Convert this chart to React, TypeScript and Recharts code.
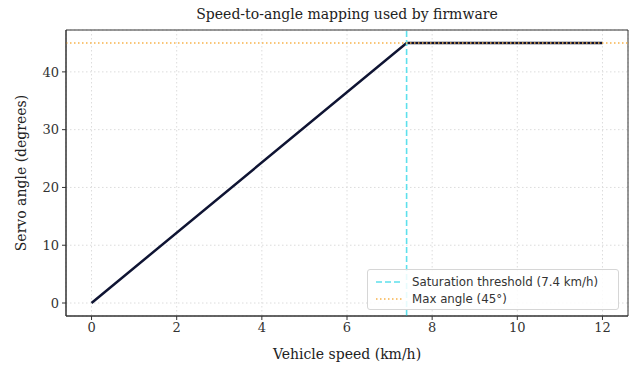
import React from "react";
import {
  ComposedChart,
  Line,
  XAxis,
  YAxis,
  CartesianGrid,
  ReferenceLine,
  ReferenceArea,
} from "recharts";

const speeds = [0, 7.4, 12];
const angles = [0, 45, 45];
const xTicks = [0, 2, 4, 6, 8, 10, 12];
const yTicks = [0, 10, 20, 30, 40];
const thresholdSpeed = 7.4;
const maxAngle = 45;
const xDomain = [-0.6, 12.6];
const yDomain = [-2.25, 47.25];
const legendLabels = ["Saturation threshold (7.4 km/h)", "Max angle (45°)"];

const data = speeds.map((s, i) => ({ speed: s, angle: angles[i] }));

const serif = "'DejaVu Serif', serif";
const sans = "'DejaVu Sans', sans-serif";
const axisColor = "#333";
const tickStyle = { fontFamily: serif, fontSize: 13, fill: "#333" };

const LegendBox = () => (
  <div
    style={{
      position: "absolute",
      left: 367,
      top: 269,
      width: 252,
      height: 41,
      border: "1px solid #d6d6d6",
      borderRadius: 3,
      background: "rgba(255,255,255,0.85)",
      fontFamily: sans,
      fontSize: 11.8,
      color: "#333",
      boxSizing: "border-box",
      padding: "3px 0 0 8px",
    }}
  >
    <div style={{ display: "flex", alignItems: "center", height: 17 }}>
      <svg width={28} height={10}>
        <line x1={0} y1={5} x2={26} y2={5} stroke="#5ee0ec" strokeWidth={1.6} strokeDasharray="6 3" />
      </svg>
      <span style={{ marginLeft: 8 }}>{legendLabels[0]}</span>
    </div>
    <div style={{ display: "flex", alignItems: "center", height: 17 }}>
      <svg width={28} height={10}>
        <line x1={0} y1={5} x2={26} y2={5} stroke="#f7b24a" strokeWidth={1.6} strokeDasharray="1.5 2.5" />
      </svg>
      <span style={{ marginLeft: 8 }}>{legendLabels[1]}</span>
    </div>
  </div>
);

export default function App() {
  return (
    <div
      style={{
        position: "absolute",
        left: 0,
        top: 0,
        width: 629,
        height: 365,
        background: "#fff",
      }}
    >
      <div
        style={{
          position: "absolute",
          left: 66,
          width: 562,
          top: 6,
          textAlign: "center",
          fontFamily: serif,
          fontSize: 14,
          color: "#222",
        }}
      >
        Speed-to-angle mapping used by firmware
      </div>
      <ComposedChart
        width={629}
        height={365}
        data={data}
        margin={{ top: 30, right: 1, left: 0, bottom: 0 }}
      >
        <CartesianGrid stroke="#dcdcdc" strokeDasharray="1.5 2.5" />
        <XAxis
          dataKey="speed"
          type="number"
          domain={xDomain}
          ticks={xTicks}
          allowDataOverflow
          height={49}
          stroke={axisColor}
          tick={tickStyle}
          tickSize={4}
          tickMargin={3}
          label={{
            value: "Vehicle speed (km/h)",
            position: "insideBottom",
            offset: 6,
            style: { fontFamily: serif, fontSize: 14, fill: "#222" },
          }}
        />
        <YAxis
          type="number"
          domain={yDomain}
          ticks={yTicks}
          allowDataOverflow
          width={66}
          stroke={axisColor}
          tick={tickStyle}
          tickSize={4}
          tickMargin={3}
          label={{
            value: "Servo angle (degrees)",
            angle: -90,
            position: "insideLeft",
            offset: 21,
            style: { fontFamily: serif, fontSize: 14, fill: "#222", textAnchor: "middle" },
          }}
        />
        <ReferenceArea
          x1={xDomain[0]}
          x2={xDomain[1]}
          y1={yDomain[0]}
          y2={yDomain[1]}
          fill="none"
          fillOpacity={0}
          stroke={axisColor}
          strokeWidth={1}
        />
        <Line
          dataKey="angle"
          stroke="#0f1433"
          strokeWidth={2.5}
          dot={false}
          isAnimationActive={false}
        />
        <ReferenceLine
          x={thresholdSpeed}
          stroke="#5ee0ec"
          strokeWidth={1.6}
          strokeDasharray="6 3"
        />
        <ReferenceLine
          y={maxAngle}
          stroke="#f7b24a"
          strokeWidth={1.6}
          strokeDasharray="1.5 2.5"
        />
      </ComposedChart>
      <LegendBox />
    </div>
  );
}
